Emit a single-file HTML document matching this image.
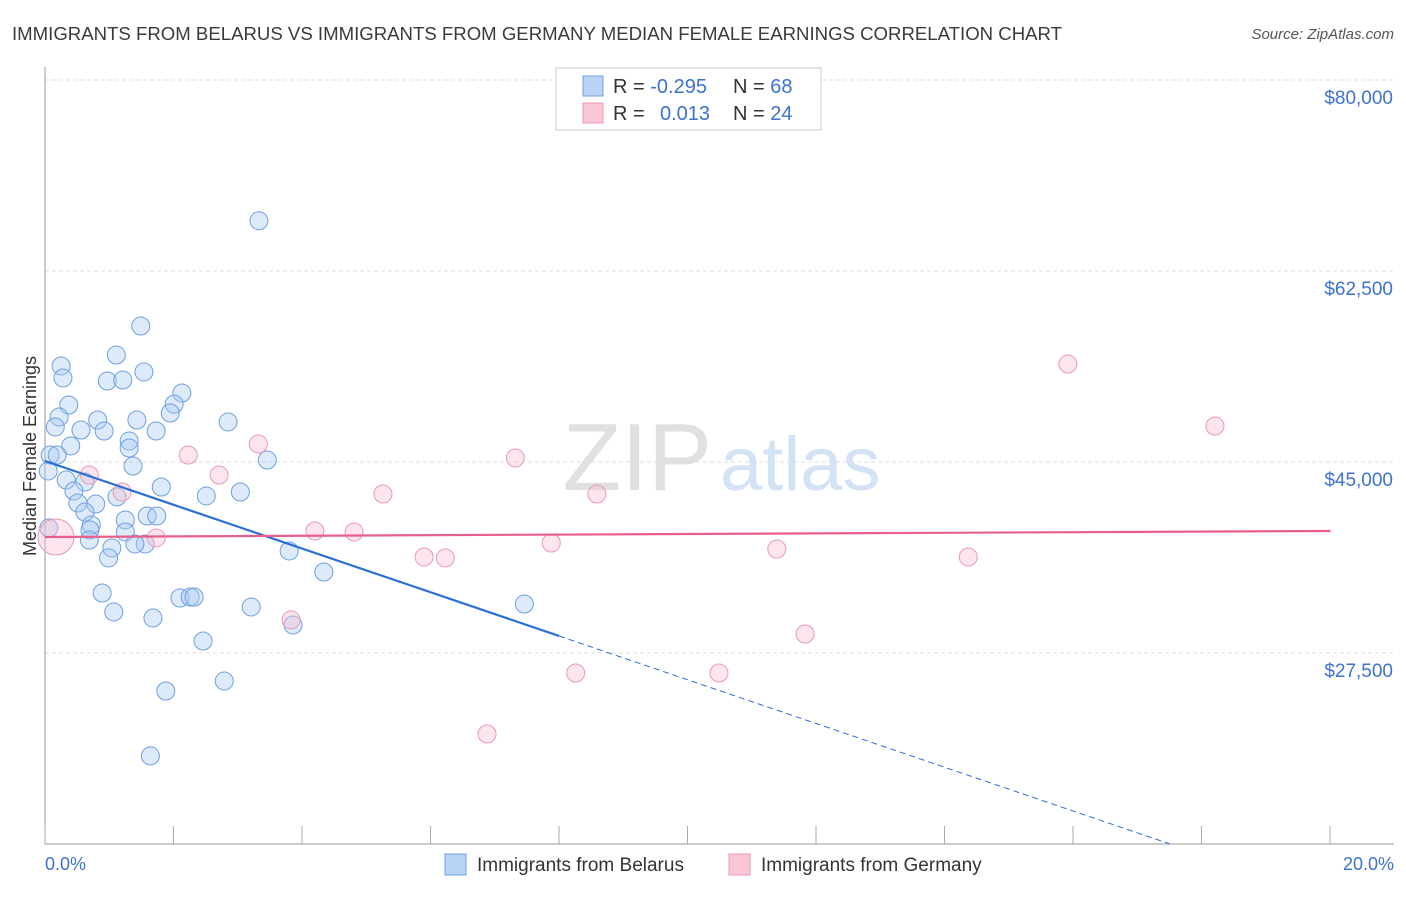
<!DOCTYPE html>
<html><head><meta charset="utf-8"><style>
body{margin:0;background:#fff;font-family:"Liberation Sans",sans-serif;}
svg text{font-family:"Liberation Sans",sans-serif;}
</style></head><body>
<svg width="1406" height="892" viewBox="0 0 1406 892">
<text x="12" y="40" font-size="18.6" fill="#3a3a3a" textLength="1050" lengthAdjust="spacingAndGlyphs">IMMIGRANTS FROM BELARUS VS IMMIGRANTS FROM GERMANY MEDIAN FEMALE EARNINGS CORRELATION CHART</text>
<text x="1394" y="39" font-size="15" fill="#555" text-anchor="end" font-style="italic">Source: ZipAtlas.com</text>
<g id="grid"></g>
<text x="712" y="490" font-size="96" fill="#e0e0e0" text-anchor="end" font-family="Liberation Serif">ZIP</text>
<text x="720" y="490" font-size="76" fill="#d3e2f4">atlas</text>
<line x1="45" y1="67" x2="45" y2="844" stroke="#999" stroke-width="1"/>
<line x1="45" y1="844" x2="1394" y2="844" stroke="#999" stroke-width="1"/>
<g id="xticks"></g>
<g id="pts"></g>
<g id="trends"></g>
<text x="36" y="456" font-size="18" fill="#333" text-anchor="middle" transform="rotate(-90 36 456)">Median Female Earnings</text>
<text x="45" y="870" font-size="18" fill="#3d72d0">0.0%</text>
<text x="1394" y="870" font-size="18" fill="#3d72d0" text-anchor="end">20.0%</text>
<g>
<rect x="556" y="68" width="265" height="62" fill="#fff" stroke="#ccc"/>
<rect x="583" y="76" width="20" height="20" fill="#b8d3f5" stroke="#6f9fe0"/>
<rect x="583" y="103" width="20" height="20" fill="#f9c6d4" stroke="#eb9ab2"/>
<text x="613" y="93" font-size="20" fill="#333">R = <tspan fill="#3d72d0">-0.295</tspan><tspan x="733">N = </tspan><tspan fill="#3d72d0">68</tspan></text>
<text x="613" y="120" font-size="20" fill="#333">R = <tspan x="660" fill="#3d72d0">0.013</tspan><tspan x="733">N = </tspan><tspan fill="#3d72d0">24</tspan></text>
</g>
<g>
<rect x="445" y="854" width="21" height="21" fill="#b8d3f5" stroke="#6f9fe0"/>
<text x="477" y="871" font-size="19" fill="#333">Immigrants from Belarus</text>
<rect x="729" y="854" width="21" height="21" fill="#f9c6d4" stroke="#eb9ab2"/>
<text x="761" y="871" font-size="19" fill="#333">Immigrants from Germany</text>
</g>
</svg>
<script>
const yTicks=[80000,62500,45000,27500];
const yTickLabels=["$80,000","$62,500","$45,000","$27,500"];
const xTicks=[0,2,4,6,8,10,12,14,16,18,20];
const belarusX=[3.33,1.49,1.11,0.25,1.54,0.28,0.97,1.21,2.13,2.01,0.37,0.22,1.95,0.82,1.43,2.85,0.16,0.56,0.92,1.73,1.31,0.40,1.31,0.08,0.19,3.46,1.37,0.05,0.33,0.62,0.45,1.81,3.04,2.51,1.12,0.79,0.51,0.62,1.59,1.74,1.25,0.72,0.70,1.25,0.06,0.69,1.04,1.56,1.40,3.80,0.99,4.34,0.89,2.10,2.26,2.32,1.07,3.21,7.46,1.68,3.86,2.46,1.88,2.79,1.64];
const belarusY=[67100,57460,54800,53800,53250,52700,52420,52510,51320,50300,50220,49120,49490,48850,48850,48670,48210,47930,47840,47840,46920,46470,46280,45640,45640,45180,44630,44180,43350,43170,42340,42710,42250,41890,41800,41150,41240,40420,40050,40050,39690,39230,38770,38590,38960,37850,37120,37490,37490,36850,36210,34920,33000,32540,32630,32630,31260,31720,31990,30710,30070,28600,24020,24940,18070];
const germanyX=[0.17,0.69,1.20,2.23,2.71,3.32,1.73,4.20,4.81,5.26,5.90,6.23,7.32,7.88,8.59,8.26,6.88,10.49,11.39,11.83,14.37,15.92,18.21,3.83];
const germanyY=[38130,43810,42250,45640,43810,46650,38040,38680,38590,42070,36300,36210,45370,37580,42070,25670,20080,25670,37030,29240,36300,53980,48300,30530];
const germanySize=[18,9,9,9,9,9,9,9,9,9,9,9,9,9,9,9,9,9,9,9,9,9,9,9];
const belarusTrend=[45090,29060,10000];
const belarusTrendX=[0,8,17.51];
const germanyTrend=[38130,38680];
const germanyTrendX=[0,20];
const NS="http://www.w3.org/2000/svg";
const xs=p=>45+p*64.25;
const ys=v=>80+(80000-v)*191/17500;
function mk(t,a,p){const e=document.createElementNS(NS,t);for(const k in a)e.setAttribute(k,a[k]);p.appendChild(e);return e;}
const grid=document.getElementById('grid');
yTicks.forEach((v,i)=>{
 const l=mk('line',{x1:45,x2:1394,y1:ys(v),y2:ys(v),stroke:'#ddd','stroke-dasharray':'4 3'},grid);
 
 
 const t=mk('text',{x:1393,y:ys(v)+24,'font-size':19,fill:'#3d72d0','text-anchor':'end'},grid);
 t.textContent=yTickLabels[i];
 
 
});
const xt=document.getElementById('xticks');
xTicks.forEach(p=>{
 const l=mk('line',{x1:xs(p),x2:xs(p),y1:826,y2:844,stroke:'#aaa'},xt);
 
 
});
const pts=document.getElementById('pts');
belarusX.forEach((p,i)=>{
 const c=mk('circle',{cx:xs(p),cy:ys(belarusY[i]),r:9,fill:'rgba(170,202,242,0.4)',stroke:'#6f9fe0','stroke-width':1},pts);
 
 
});
germanyX.forEach((p,i)=>{
 const c=mk('circle',{cx:xs(p),cy:ys(germanyY[i]),r:germanySize[i],fill:'rgba(248,190,207,0.4)',stroke:'#eb9ab2','stroke-width':1},pts);
 
 
});
const tr=document.getElementById('trends');
const b1=mk('line',{x1:xs(belarusTrendX[0]),y1:ys(belarusTrend[0]),x2:xs(belarusTrendX[1]),y2:ys(belarusTrend[1]),stroke:'#2a6fd6','stroke-width':2.2},tr);


const b2=mk('line',{x1:xs(belarusTrendX[1]),y1:ys(belarusTrend[1]),x2:xs(belarusTrendX[2]),y2:ys(belarusTrend[2]),stroke:'#2a6fd6','stroke-width':1,'stroke-dasharray':'6 4'},tr);


const g1=mk('line',{x1:xs(germanyTrendX[0]),y1:ys(germanyTrend[0]),x2:xs(germanyTrendX[1])+0.5,y2:ys(germanyTrend[1]),stroke:'#e8608a','stroke-width':2.2},tr);


</script>
</body></html>
